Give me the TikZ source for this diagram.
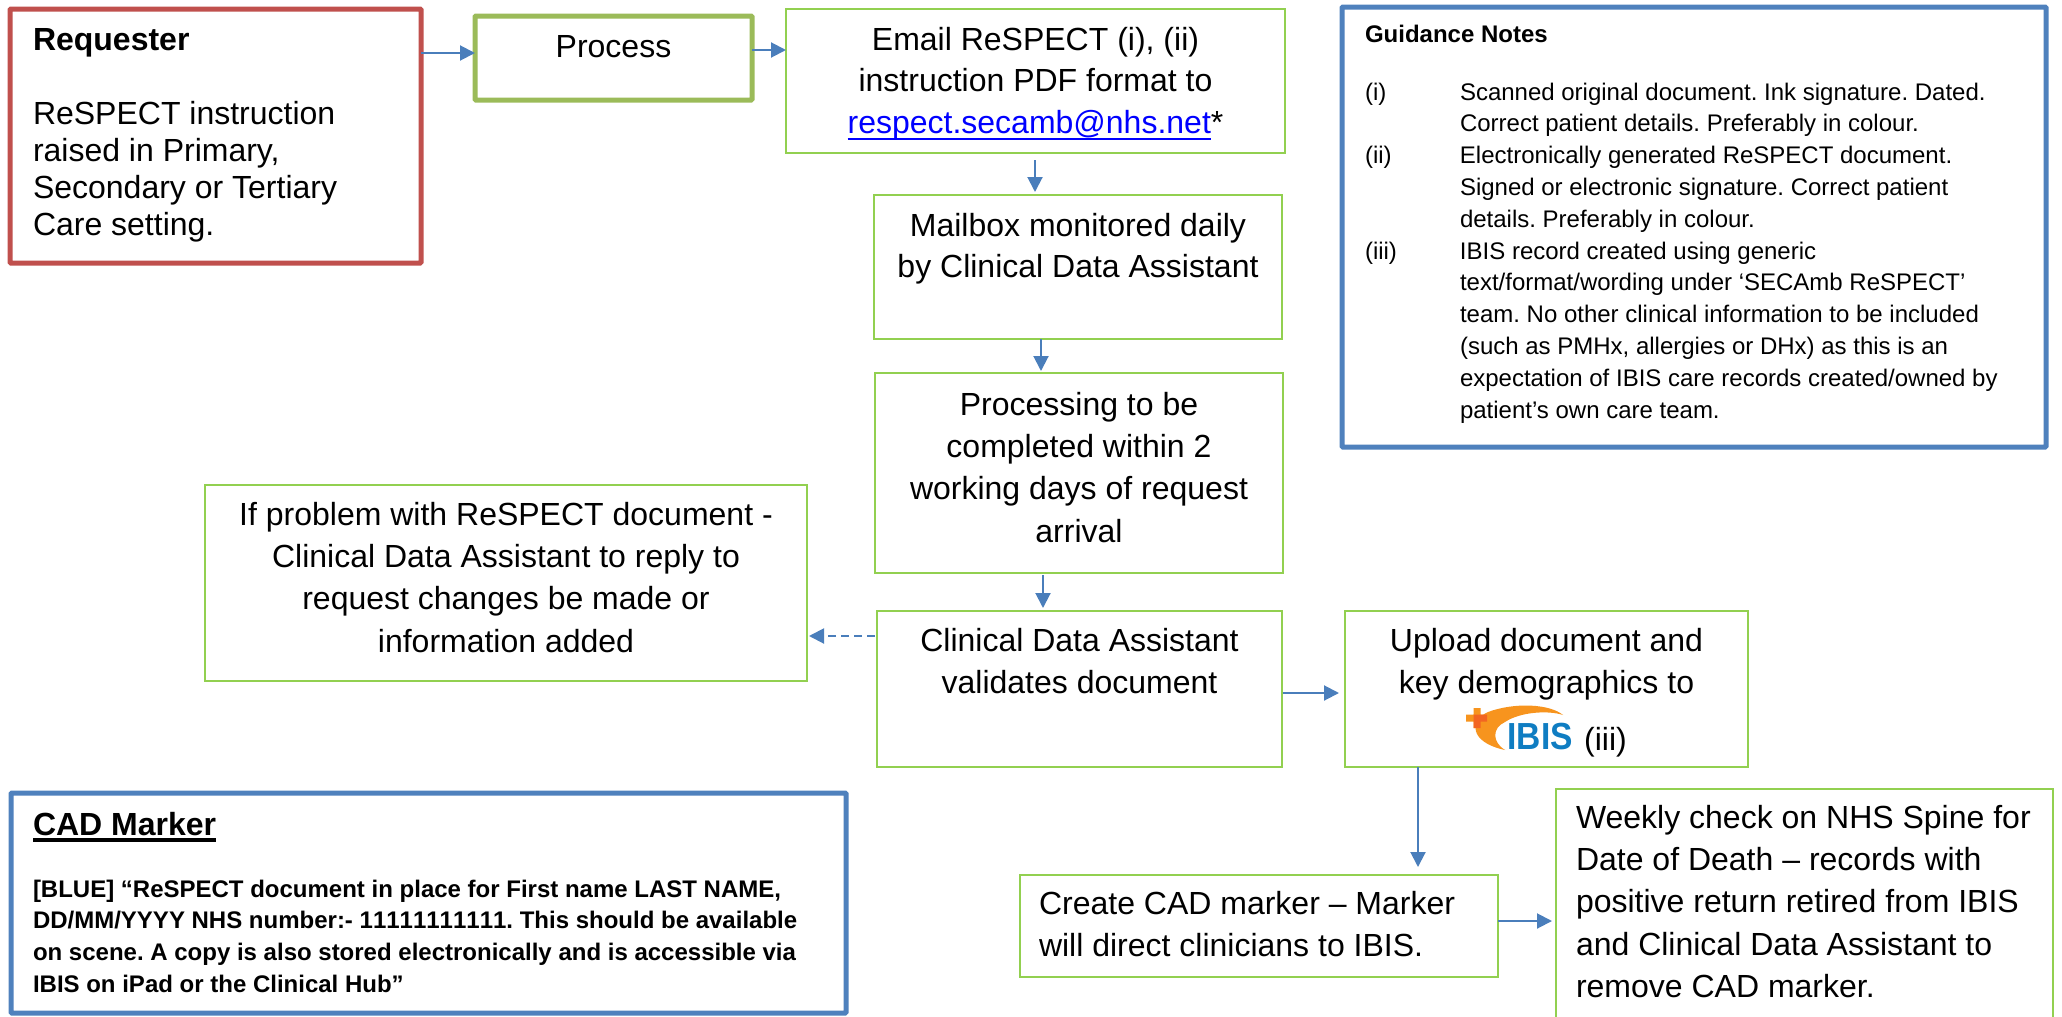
\documentclass[tikz,border=0pt]{standalone}
\usepackage{fontspec}
\setmainfont{Liberation Sans}
\usetikzlibrary{arrows.meta}
\definecolor{redline}{HTML}{C0504D}
\definecolor{greenthick}{HTML}{9BBB59}
\definecolor{greenthin}{HTML}{92D050}
\definecolor{blueline}{HTML}{4F81BD}
\definecolor{arrowblue}{HTML}{4A7EBB}
\definecolor{linkblue}{HTML}{0000FF}
\definecolor{ibisorange}{HTML}{F7941E}
\definecolor{ibisplus}{HTML}{F26522}
\definecolor{ibisblue}{HTML}{0F7DC2}
% #2 name, #3-#6 box x0 y0 x1 y1, #7 absolute baseline of first line, #8 setup, #9 text
\newcommand{\bx}[9][]{%
  \node[flowbox,#1] (#2) at ({(#3+#5)/2},{(#4+#6)/2}) {%
    \begin{minipage}[c][\dimexpr #6pt-#4pt\relax][t]{\dimexpr #5pt-#3pt\relax}%
    \frenchspacing #8\rule{0pt}{\dimexpr #7pt-#4pt\relax}#9%
    \end{minipage}};}
\newcommand{\main}[1][42.4]{\fontsize{32}{#1}\selectfont}
\newcommand{\noteline}[2]{{\leftskip=118pt\relax\hspace*{-95pt}\makebox[95pt][l]{#1}#2\par}}
\newcommand{\thickul}[3]{\leavevmode\setbox0=\hbox{#3}\rlap{\raisebox{-#2}{\rule{\wd0}{#1}}}\box0 }
\tikzset{
  x=1pt,y=-1pt,
  flowbox/.style={draw=greenthin,line width=1.6pt,inner sep=0pt,outer sep=0pt,fill=white,text=black},
  redbox/.style={draw=redline,line width=5pt,rounded corners=1pt},
  greenbox/.style={draw=greenthick,line width=5pt,rounded corners=1pt},
  bluebox/.style={draw=blueline,line width=5pt,rounded corners=1pt},
  flow/.style={draw=arrowblue,line width=2pt,-{Triangle[length=15pt,width=15pt]}},
}
\begin{document}
\begin{tikzpicture}
\useasboundingbox (0,0) rectangle (2062,1017);

\bx[redbox]{req}{10}{9}{421}{263}{50}{\raggedright\leftskip=23pt\relax\main[37]}{\textbf{Requester}\\[37pt]ReSPECT instruction\\raised in Primary,\\Secondary or Tertiary\\Care setting.}
\bx[greenbox]{proc}{475}{16}{752}{100}{57}{\centering\main}{Process}
\bx{email}{786}{9}{1285}{153}{50}{\centering\main[41.7]}{Email ReSPECT (i), (ii)\\instruction PDF format to\\{\color{linkblue}\thickul{2.5pt}{7pt}{respect.secamb@nhs.net}}*}
\bx{mail}{874}{195}{1282}{339}{236}{\centering\main[41.5]}{Mailbox monitored daily\\by Clinical Data Assistant}
\bx{work}{875}{373}{1283}{573}{415}{\centering\main}{Processing to be\\completed within 2\\working days of request\\arrival}
\bx{valid}{877}{611}{1282}{767}{651}{\centering\main}{Clinical Data Assistant\\validates document}
\bx{upload}{1345}{611}{1748}{767}{651}{\centering\main}{Upload document and\\key demographics to\\[14.6pt]\hspace*{118pt}(iii)}
\bx{problem}{205}{485}{807}{681}{525}{\centering\main}{If problem with ReSPECT document -\\Clinical Data Assistant to reply to\\request changes be made or\\information added}
\bx{cadm}{1020}{875}{1498}{977}{914}{\raggedright\leftskip=19pt\relax\main}{Create CAD marker – Marker\\will direct clinicians to IBIS.}
\bx{weekly}{1556}{789}{2053}{1030}{828}{\raggedright\leftskip=20pt\relax\main}{Weekly check on NHS Spine for\\Date of Death – records with\\positive return retired from IBIS\\and Clinical Data Assistant to\\remove CAD marker.}
\bx[bluebox]{cad}{11}{793}{846}{1013}{835}{\raggedright\leftskip=22pt\relax\fontsize{24}{31.7}\selectfont\bfseries}{{\fontsize{32}{31.7}\selectfont\thickul{4pt}{7pt}{CAD Marker}}\\[30.3pt][BLUE] “ReSPECT document in place for First name LAST NAME,\\DD/MM/YYYY NHS number:- {\addfontfeature{Kerning=Off}11111111111}. This should be available\\on scene. A copy is also stored electronically and is accessible via\\IBIS on iPad or the Clinical Hub”}
\bx[bluebox]{notes}{1342}{7}{2046}{447}{42}{\raggedright\leftskip=23pt\relax\fontsize{24}{31.8}\selectfont}{\textbf{Guidance Notes}\par\vspace{26.2pt}
\noteline{(i)}{Scanned original document. Ink signature. Dated.\\Correct patient details. Preferably in colour.}
\noteline{(ii)}{Electronically generated ReSPECT document.\\Signed or electronic signature. Correct patient\\details. Preferably in colour.}
\noteline{(iii)}{IBIS record created using generic\\text/format/wording under ‘SECAmb ReSPECT’\\team. No other clinical information to be included\\(such as PMHx, allergies or DHx) as this is an\\expectation of IBIS care records created/owned by\\patient’s own care team.}}

% IBIS logo
\fill[ibisorange] (1563,715) .. controls (1550,704) and (1515,702) .. (1488,712) .. controls (1470,720) and (1468,742) .. (1505,750) .. controls (1492,742) and (1492,728) .. (1505,722) .. controls (1520,712) and (1548,710) .. (1563,715) -- cycle;
\fill[ibisorange] (1473.5,708) rectangle (1480.5,728) (1466,714.5) rectangle (1487,721.5);
\fill[ibisplus] (1473.5,714.5) rectangle (1480.5,728) (1473.5,714.5) rectangle (1487,721.5);
\node[inner sep=0pt,outer sep=0pt,anchor=base west,xscale=.89,text=ibisblue,font=\fontsize{37.7}{38}\selectfont\bfseries] (ibis) at (1507.5,749) {IBIS};

% connectors
\draw[flow] (req.east |- 0,53) -- (proc.west |- 0,53);
\draw[flow] (proc.east |- 0,50) -- (email.west |- 0,50);
\draw[flow,shorten <=7pt,shorten >=3pt] (email.south -| 1035,0) -- (mail.north -| 1035,0);
\draw[flow,shorten >=2pt] (mail.south -| 1041,0) -- (work.north -| 1041,0);
\draw[flow,shorten <=2pt,shorten >=3pt] (work.south -| 1043,0) -- (valid.north -| 1043,0);
\draw[flow,dash pattern=on 8pt off 5pt,shorten >=2pt,shorten <=2pt] (valid.west |- 0,636) -- (problem.east |- 0,636);
\draw[flow,shorten <=1pt,shorten >=6pt] (valid.east |- 0,693) -- (upload.west |- 0,693);
\draw[flow,shorten >=8pt] (upload.south -| 1418,0) -- (cadm.north -| 1418,0);
\draw[flow,shorten >=4pt] (cadm.east |- 0,921) -- (weekly.west |- 0,921);
\end{tikzpicture}
\end{document}
